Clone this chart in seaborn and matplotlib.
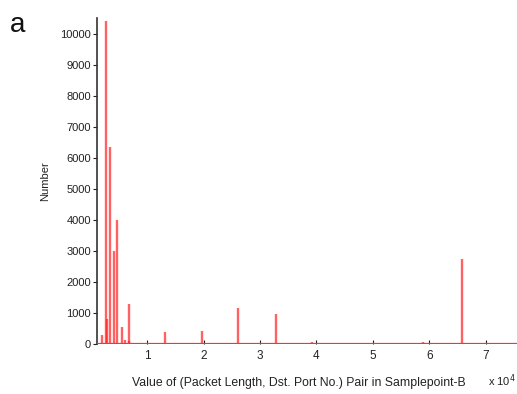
import numpy as np
import pandas as pd
import matplotlib
matplotlib.use("Agg")
import matplotlib.pyplot as plt
import seaborn as sns
from matplotlib.ticker import FixedLocator, FuncFormatter

# ---- data ----
pair_values = [1915, 2624, 2800, 3440, 4043, 4680, 5460, 5993, 6700, 6810,
               13140, 19700, 26130, 32820, 39150, 45820, 52550, 58940, 65750]
counts = [300, 10400, 800, 6350, 3000, 4000, 550, 130, 1300, 100,
          400, 430, 1150, 950, 50, 30, 30, 60, 2750]
y_ticks = [0, 1000, 2000, 3000, 4000, 5000, 6000, 7000, 8000, 9000, 10000]
x_ticks = [10000, 20000, 30000, 40000, 50000, 60000, 70000]
x_label = "Value of (Packet Length, Dst. Port No.) Pair in Samplepoint-B"
y_label = "Number"
panel_label = "a"

df = pd.DataFrame({"pair": pair_values, "count": counts})

sns.set_theme(style="ticks")
plt.rcParams["font.family"] = ["Liberation Sans", "DejaVu Sans"]

fig = plt.figure(figsize=(5.17, 3.94), dpi=100)
ax = fig.add_axes([0.188, 0.127, 0.812, 0.827])

# zero baseline across the whole axis
sns.lineplot(x=[1130, 75550], y=[0, 0], color="#ff3030", lw=1.6, ax=ax, zorder=3)
# stems
ax.vlines(df["pair"], 0, df["count"], colors="#ff2020", lw=1.7, alpha=0.7, zorder=2)

ax.set_xlim(1130, 75550)
ax.set_ylim(0, 10500)

ax.yaxis.set_major_locator(FixedLocator(y_ticks))
ax.xaxis.set_major_locator(FixedLocator(x_ticks))
ax.xaxis.set_major_formatter(FuncFormatter(lambda v, p: f"{v/1e4:g}"))

ax.tick_params(axis="y", direction="out", length=3, width=0.8, labelsize=8,
               colors="#222222", pad=1.5)
ax.tick_params(axis="x", direction="in", length=3, width=0.8, labelsize=8.5,
               colors="#222222", pad=4)

for s in ["top", "right", "bottom"]:
    ax.spines[s].set_visible(False)
ax.spines["left"].set_color("#333333")
ax.spines["left"].set_linewidth(1.2)

ax.set_xlabel(x_label, fontsize=8.8, color="#222222")
ax.xaxis.set_label_coords(0.481, -0.1)
ax.set_ylabel(y_label, fontsize=8, color="#222222")
ax.yaxis.set_label_coords(-0.112, 0.5)

fig.text(0.943, 0.022, "x 10$^4$", fontsize=8, color="#222222")
fig.text(0.02, 0.92, panel_label, fontsize=20, color="#111111")

fig.savefig("out.png", dpi=100)
